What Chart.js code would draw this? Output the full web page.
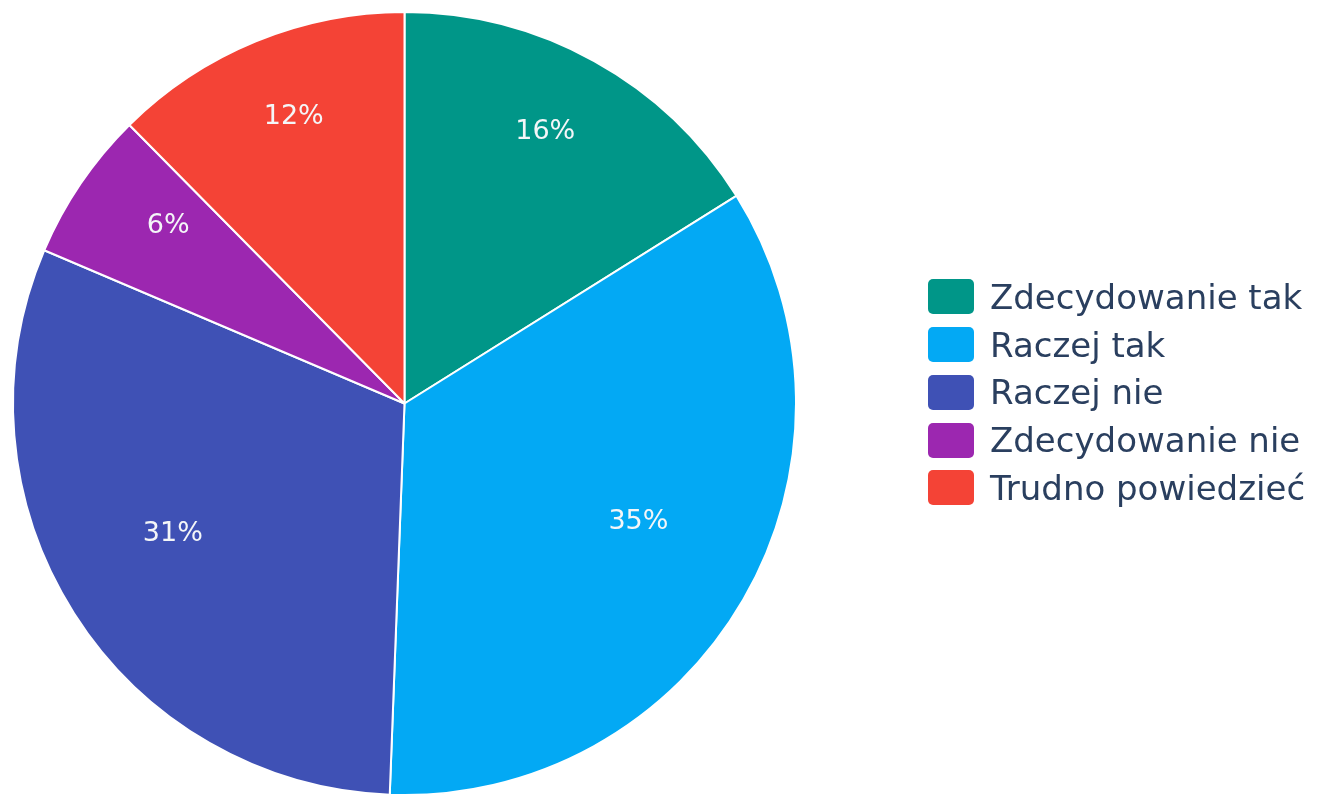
<!DOCTYPE html>
<html>
<head>
<meta charset="utf-8">
<script src="https://cdn.jsdelivr.net/npm/chart.js@4"></script>
<style>
  html,body{margin:0;padding:0;background:#fff;overflow:hidden;width:1318px;height:794px}
  #wrap{position:relative;width:1318px;height:794px;overflow:hidden}
  #chart{position:absolute;left:0;top:0}
  #legend{position:absolute;left:928px;top:273px;white-space:nowrap;font-family:"DejaVu Sans",sans-serif;font-size:34px;color:#2a3f5f}
  .lg-row{display:flex;align-items:center;height:47.75px}
  .lg-box{width:46px;height:35px;border-radius:5px;margin-right:16px;flex-shrink:0}
</style>
</head>
<body>
<div id="wrap">
  <canvas id="chart" width="1318" height="796"></canvas>
  <div id="legend"></div>
</div>
<script>
// ─── DATOS ────────────────────────────────────────────────────────────────────
const etiquetas = ['Zdecydowanie tak','Raczej tak','Raczej nie','Zdecydowanie nie','Trudno powiedzieć'];
const valores   = [16.1, 34.5, 30.8, 6.2, 12.4];
const colores   = ['#009688','#03A9F4','#3F51B5','#9C27B0','#F44336'];

// etiquetas de porcentaje dentro de cada sector
const pctLabels = {
  id:'pctLabels',
  afterDatasetsDraw(chart){
    const ctx = chart.ctx;
    const meta = chart.getDatasetMeta(0);
    const total = valores.reduce((s,v)=>s+v,0);
    ctx.save();
    ctx.font = '27px "DejaVu Sans", sans-serif';
    ctx.fillStyle = '#f4f6f8';
    ctx.textAlign = 'center';
    ctx.textBaseline = 'alphabetic';
    meta.data.forEach((arc,i)=>{
      const p = valores[i]/total;
      const mid = (arc.startAngle+arc.endAngle)/2;
      const k = 0.745 - 0.28*Math.max(0, p-0.15) - (p<0.1 ? 0.015 : 0);
      const r = arc.outerRadius*k;
      ctx.fillText(Math.round(p*100)+'%', arc.x+Math.cos(mid)*r, arc.y+Math.sin(mid)*r-10);
    });
    ctx.restore();
  }
};

new Chart(document.getElementById('chart'), {
  type:'pie',
  data:{labels:etiquetas, datasets:[{data:valores, backgroundColor:colores, borderColor:'#ffffff', borderWidth:2}]},
  options:{responsive:false, animation:false,
    layout:{padding:{left:12,top:11,right:521,bottom:0}},
    plugins:{legend:{display:false}, tooltip:{enabled:false}}},
  plugins:[pctLabels]
});

document.getElementById('legend').innerHTML = etiquetas.map((t,i)=>`
  <div class="lg-row"><div class="lg-box" style="background:${colores[i]}"></div><span>${t}</span></div>`).join('');
</script>
</body>
</html>
